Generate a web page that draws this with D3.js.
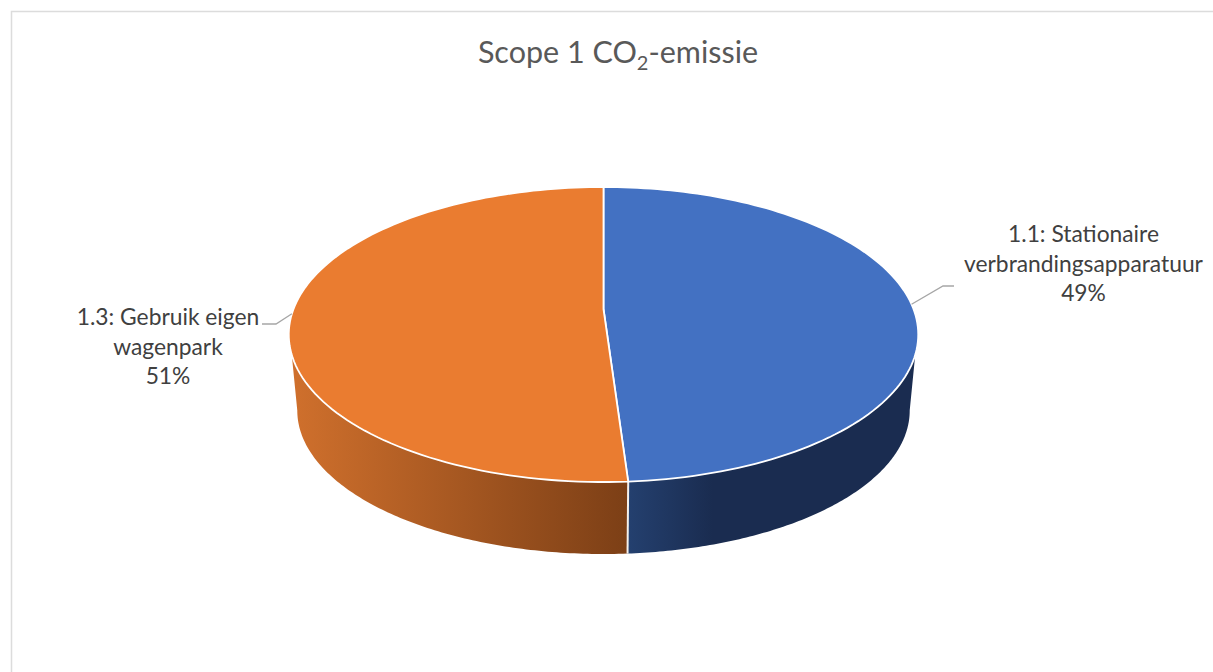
<!DOCTYPE html>
<html>
<head>
<meta charset="utf-8">
<script src="https://cdn.jsdelivr.net/npm/d3@7"></script>
<style>
  html, body { margin: 0; padding: 0; background: #fff; }
  svg { display: block; }
  text { font-family: Lato, "Open Sans", sans-serif; }
</style>
</head>
<body>
<svg id="chart" width="1213" height="672"></svg>
<script>
// data
const categories = ["1.1: Stationaire verbrandingsapparatuur", "1.3: Gebruik eigen wagenpark"];
const values = [48.95, 51.05];
const labelLines = [
  ["1.1: Stationaire", "verbrandingsapparatuur"],
  ["1.3: Gebruik eigen", "wagenpark"]
];
const topColors = ["#4371c2", "#ea7c30"];

const svg = d3.select("#chart");

// chart frame
svg.append("path")
  .attr("d", "M11.5,672V11.5H1213")
  .attr("fill", "none")
  .attr("stroke", "#dcdcdc")
  .attr("stroke-width", 1.5);

// title
const title = svg.append("text")
  .attr("x", 618)
  .attr("y", 63)
  .attr("text-anchor", "middle")
  .attr("font-size", 30.5)
  .attr("fill", "#595959");
title.append("tspan").text("Scope 1 CO");
title.append("tspan").attr("dy", 7).attr("font-size", 20).text("2");
title.append("tspan").attr("dy", -7).text("-emissie");

// perspective projection of the pie disc
const cx = 603.5, k = 0.173;
const topDisc = {y: 309, a: 310, b: 143.1};
const bottomDisc = {y: 385.7, a: 301.6, b: 139.2};

function project(angle, disc) {
  let u = Math.sin(angle), v = -Math.cos(angle);
  let w = 1 - k * v;
  return [cx + disc.a * u / w, disc.y + disc.b * v / w];
}

function rim(a0, a1, disc) {
  let n = 120;
  return d3.range(n + 1).map(i => project(a0 + (a1 - a0) * i / n, disc));
}

const line = d3.line();
const slices = d3.pie().sort(null)(values);

// gradients for the side wall
const defs = svg.append("defs");
const sideStops = [
  [["0%", "#24406f"], ["30%", "#1a2c50"], ["100%", "#1a2c50"]],
  [["0%", "#ce6f2c"], ["100%", "#7c3f16"]]
];
const sideRange = [[628, 910], [298, 628]];
sideStops.forEach((stops, i) => {
  let g = defs.append("linearGradient")
    .attr("id", "side" + i)
    .attr("gradientUnits", "userSpaceOnUse")
    .attr("x1", sideRange[i][0]).attr("y1", 0)
    .attr("x2", sideRange[i][1]).attr("y2", 0);
  stops.forEach(s => g.append("stop").attr("offset", s[0]).attr("stop-color", s[1]));
});

// only the front of the wall shows, between these rim angles
const wallTop = Math.acos(-0.304);
const wallBottom = Math.acos(-k);
const tau = 2 * Math.PI;

function clampAngle(a, limit) {
  return Math.max(limit, Math.min(tau - limit, a));
}

// side walls
svg.selectAll("path.side")
  .data(slices)
  .enter()
  .append("path")
    .attr("class", "side")
    .attr("d", d => line(
      rim(clampAngle(d.startAngle, wallTop), clampAngle(d.endAngle, wallTop), topDisc)
        .concat(rim(clampAngle(d.endAngle, wallBottom), clampAngle(d.startAngle, wallBottom), bottomDisc))
    ) + "Z")
    .attr("fill", (d, i) => "url(#side" + i + ")");

// white seam between the walls at the front
const seam = slices[0].endAngle;
svg.append("path")
  .attr("d", line([project(seam, topDisc), project(seam, bottomDisc)]))
  .attr("stroke", "#f4f0ec")
  .attr("stroke-width", 2);

// top faces
svg.selectAll("path.slice")
  .data(slices)
  .enter()
  .append("path")
    .attr("class", "slice")
    .attr("d", d => line([[cx, topDisc.y]].concat(rim(d.startAngle, d.endAngle, topDisc))) + "Z")
    .attr("fill", (d, i) => topColors[i])
    .attr("stroke", "#fff")
    .attr("stroke-width", 1.8)
    .attr("stroke-linejoin", "round");

// leader lines, from the middle of each slice's rim
const elbows = [[[943, 286], [954, 286]], [[276, 324], [262, 324]]];
slices.forEach((d, i) => {
  let mid = (d.startAngle + d.endAngle) / 2;
  svg.append("path")
    .attr("d", line([project(mid, topDisc)].concat(elbows[i])))
    .attr("fill", "none")
    .attr("stroke", "#a6a6a6")
    .attr("stroke-width", 1.3);
});

// data labels
const labelX = [1083.5, 168];
const labelY = [242, 325];
const lineStep = 29.5;
const pct = d3.format(".0%");
slices.forEach((d, i) => {
  let lines = labelLines[i].concat(pct(d.value / d3.sum(values)));
  svg.append("text")
    .attr("text-anchor", "middle")
    .attr("font-size", 22.8)
    .attr("fill", "#404040")
    .selectAll("tspan")
    .data(lines)
    .enter()
    .append("tspan")
      .attr("x", labelX[i])
      .attr("y", (t, j) => labelY[i] + j * lineStep)
      .text(t => t);
});
</script>
</body>
</html>
